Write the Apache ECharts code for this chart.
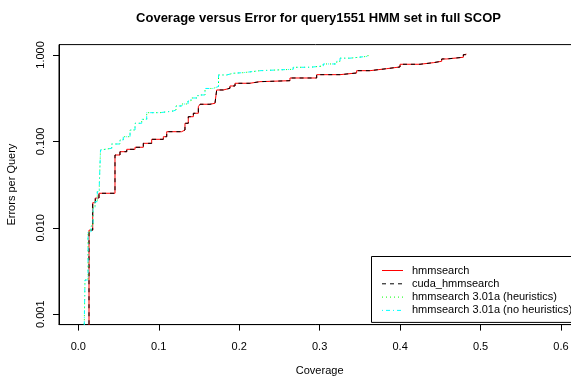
<!DOCTYPE html>
<html>
<head>
<meta charset="utf-8">
<script src="https://cdn.jsdelivr.net/npm/echarts@6/dist/echarts.min.js"></script>
<style>
html,body{margin:0;padding:0;background:#fff;}
#main{width:571px;height:376px;}
</style>
</head>
<body>
<div id="main"></div>
<script>
// coverage / errors-per-query step points (x = where the step rises, y = level after it)
var hmmCov = [0.0133,0.0133,0.0179,0.0211,0.0257,0.0456,0.0518,0.0602,0.0705,0.0808,0.0912,0.1057,0.1099,0.1285,0.1326,0.1367,0.1430,0.1492,0.1513,0.1637,0.1699,0.1720,0.1802,0.1885,0.1948,0.2133,0.2258,0.2631,0.2963,0.3253,0.3460,0.3626,0.3833,0.3999,0.4247,0.4413,0.4517,0.4579,0.4786,0.4819];
var hmmErr = [0.0005,0.0094,0.0195,0.0221,0.0251,0.0696,0.076,0.081,0.0855,0.095,0.1057,0.1133,0.1295,0.1355,0.162,0.193,0.2115,0.252,0.269,0.276,0.288,0.3935,0.4117,0.4377,0.4705,0.491,0.504,0.5416,0.5916,0.619,0.658,0.694,0.7264,0.7806,0.8144,0.8454,0.899,0.9406,1.008,1.035];

var h3Cov = [0.0071,0.0083,0.0121,0.0158,0.0183,0.0208,0.0236,0.0261,0.0276,0.0291,0.0415,0.0518,0.0559,0.0643,0.0705,0.0788,0.0850,0.1016,0.1181,0.1214,0.1289,0.1364,0.1401,0.1488,0.1575,0.1674,0.1743,0.1845,0.1923,0.2051,0.2259,0.2672,0.2880,0.3045,0.3212,0.3253,0.3377,0.3601];
var h3Err = [0.0005,0.00249,0.00894,0.0105,0.01695,0.02005,0.0262,0.0313,0.0795,0.0832,0.0933,0.1038,0.1133,0.1355,0.162,0.180,0.2149,0.2248,0.2308,0.2569,0.2710,0.2935,0.318,0.3444,0.4095,0.4319,0.587,0.614,0.624,0.658,0.683,0.7205,0.746,0.787,0.8454,0.918,0.966,1.0];

// cuda_hmmsearch lies on hmmsearch, heuristics lies on no heuristics
var cudaCov = hmmCov, cudaErr = hmmErr;
var h3hCov = h3Cov, h3hErr = h3Err;

var names = ['hmmsearch','cuda_hmmsearch','hmmsearch 3.01a (heuristics)','hmmsearch 3.01a (no heuristics)'];
var xTicks = [0,0.1,0.2,0.3,0.4,0.5,0.6];
var yTicks = [0.001,0.01,0.1,1];

function pts(cov,err){
	var out=[];
	for(var i=0;i<cov.length;i++){
		out.push([cov[i],Math.log10(err[i])]);
	}
	return out;
}

function mkSeries(name,cov,err,color,dash){
	return {
		name:name,
		type:'line',
		step:'end',
		symbol:'none',
		clip:true,
		animation:false,
		lineStyle:{color:color,width:1,type:dash},
		itemStyle:{color:color},
		data:pts(cov,err)
	};
}

var font = 'Liberation Sans, Arial, sans-serif';
var chart = echarts.init(document.getElementById('main'));
var option = {
	backgroundColor:'#fff',
	animation:false,
	title:{
		text:'Coverage versus Error for query1551 HMM set in full SCOP',
		left:313.5,
		textAlign:'center',
		top:7,
		textStyle:{fontFamily:font,fontSize:13,fontWeight:'bold',color:'#000'}
	},
	grid:{
		left:59,top:44.6,width:521.3,height:280,
		outerBoundsMode:'none',
		show:true,borderColor:'#000',borderWidth:1,backgroundColor:'transparent'
	},
	legend:{
		orient:'vertical',
		left:371.5,top:256.5,
		data:names,
		itemWidth:21,itemHeight:13,itemGap:0.3,
		padding:[7.5,30,5.5,10],
		backgroundColor:'#fff',
		borderColor:'#000',borderWidth:1,borderRadius:0,
		itemStyle:{opacity:0,borderWidth:0},
		lineStyle:{width:1},
		textStyle:{fontFamily:font,fontSize:11,color:'#000',lineHeight:13,padding:[0,0,0,4]}
	},
	xAxis:{
		type:'value',
		min:-0.024,max:0.624,
		name:'Coverage',nameLocation:'middle',nameGap:41,
		nameTextStyle:{fontFamily:font,fontSize:11,color:'#000'},
		axisLine:{show:true,onZero:false,lineStyle:{color:'#000',width:1}},
		axisTick:{show:true,length:6,customValues:xTicks,lineStyle:{color:'#000'}},
		axisLabel:{customValues:xTicks,margin:16.5,fontFamily:font,fontSize:11,color:'#000',
			formatter:function(v){return v.toFixed(1);}},
		splitLine:{show:false}
	},
	yAxis:{
		type:'value',
		min:-3.12,max:0.12,
		name:'Errors per Query',nameLocation:'middle',nameGap:42,
		nameTextStyle:{fontFamily:font,fontSize:11,color:'#000'},
		axisLine:{show:true,onZero:false,lineStyle:{color:'#000',width:1}},
		axisTick:{show:true,length:6,customValues:yTicks.map(Math.log10),lineStyle:{color:'#000'}},
		axisLabel:{customValues:yTicks.map(Math.log10),rotate:90,margin:12.5,fontFamily:font,fontSize:11,color:'#000',
			formatter:function(v){return Math.pow(10,v).toFixed(3);}},
		splitLine:{show:false}
	},
	series:[
		mkSeries(names[0],hmmCov,hmmErr,'#ff0000','solid'),
		mkSeries(names[1],cudaCov,cudaErr,'#000000',[4,4]),
		mkSeries(names[2],h3hCov,h3hErr,'#00ff00',[1,3]),
		mkSeries(names[3],h3Cov,h3Err,'#00ffff',[1,3,4,3])
	]
};
chart.setOption(option);
</script>
</body>
</html>
